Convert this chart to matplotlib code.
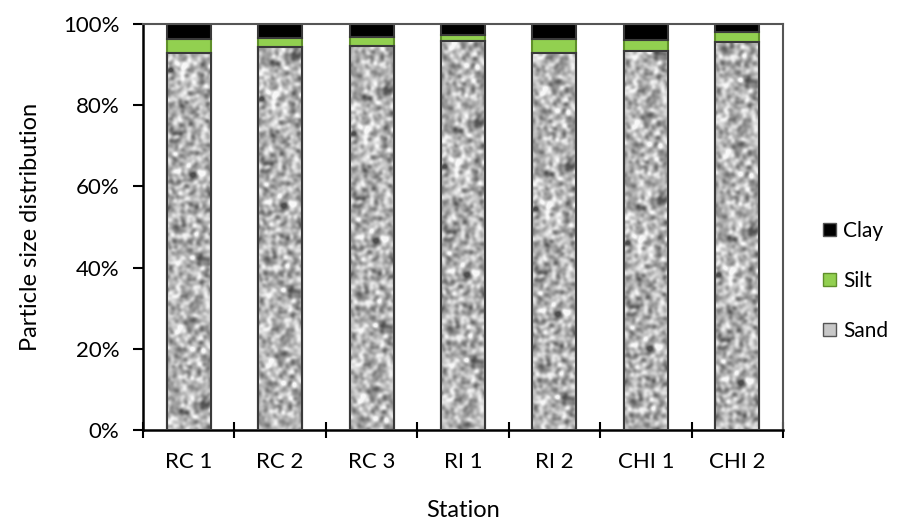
import numpy as np
import matplotlib
matplotlib.use("Agg")
import matplotlib.pyplot as plt
from matplotlib.patches import Patch

plt.rcParams['font.family'] = ['Lato', 'DejaVu Sans']

stations = ["RC 1", "RC 2", "RC 3", "RI 1", "RI 2", "CHI 1", "CHI 2"]
sand = [92.8, 94.4, 94.6, 95.7, 92.9, 93.4, 95.5]
silt = [3.4, 2.2, 2.1, 1.6, 3.3, 2.7, 2.6]
clay = [3.8, 3.4, 3.3, 2.7, 3.8, 3.9, 1.9]

fig = plt.figure(figsize=(9.02, 5.22), dpi=100)
ax = fig.add_axes([143/902, 1 - 430/522, 640/902, 406/522])

x = np.arange(len(stations))
w = 0.48
edge = '#3a3a3a'
b_sand = ax.bar(x, sand, w, color='#bdbdbd', edgecolor=edge, linewidth=1.5, zorder=2)
b_silt = ax.bar(x, silt, w, bottom=sand, color='#92d050', edgecolor='#5f8f2a', linewidth=1.5, zorder=2)
b_clay = ax.bar(x, clay, w, bottom=np.array(sand) + np.array(silt), color='#000000',
                edgecolor=edge, linewidth=1.5, zorder=2)

# granite-like texture for sand bars (styling only)
rng = np.random.default_rng(3)
H, W = 400, 44
noise = rng.standard_normal((H, W))
ky = np.fft.fftfreq(H)[:, None]
kx = np.fft.fftfreq(W)[None, :]
sig = 1.9
filt = np.exp(-2 * (np.pi * sig) ** 2 * (kx ** 2 + ky ** 2))
tex = np.real(np.fft.ifft2(np.fft.fft2(noise) * filt))
tex = (tex - tex.mean()) / tex.std()
tex = np.clip(0.70 + 0.12 * tex, 0.3, 0.97)
for i, r in enumerate(b_sand):
    x0 = r.get_x(); ww = r.get_width(); hh = r.get_height()
    im = ax.imshow(np.roll(tex, i * 37, axis=0), cmap='gray', vmin=0, vmax=1,
                   extent=[x0, x0 + ww, 0, hh], aspect='auto', zorder=2.5,
                   interpolation='bilinear')
    im.set_clip_path(r)
    r2 = plt.Rectangle((x0, 0), ww, hh, fill=False, edgecolor=edge, linewidth=1.5, zorder=3)
    ax.add_patch(r2)

ax.set_xlim(-0.5, len(stations) - 0.5)
ax.set_ylim(0, 100)
ax.set_yticks(np.arange(0, 101, 20))
ax.set_yticklabels([f"{v}%" for v in range(0, 101, 20)])
ax.set_xticks(x)
ax.set_xticklabels(stations)
ax.tick_params(axis='x', length=0, labelsize=16, pad=16)
ax.set_xticks(np.arange(-0.5, len(stations), 1), minor=True)
ax.tick_params(axis='x', which='minor', direction='inout', length=12, width=1.5, color='black')
ax.tick_params(axis='y', direction='out', length=7, width=1.5, labelsize=16, pad=10)

for s in ['top', 'right']:
    ax.spines[s].set_color('#555555')
    ax.spines[s].set_linewidth(1.5)
for s in ['left', 'bottom']:
    ax.spines[s].set_color('black')
    ax.spines[s].set_linewidth(1.8)

ax.set_ylabel("Particle size distribution", fontsize=17, labelpad=16)
ax.set_xlabel("Station", fontsize=17, labelpad=20)

handles = [Patch(facecolor='#000000', edgecolor='#555555', label='Clay'),
           Patch(facecolor='#92d050', edgecolor='#5f8f2a', label='Silt'),
           Patch(facecolor='#c8c8c8', edgecolor='#555555', label='Sand')]
fig.legend(handles=handles, loc='center left', bbox_to_anchor=(823/902, 1 - 281/522),
           frameon=False, fontsize=15, handlelength=0.6, handleheight=0.6,
           labelspacing=1.45, handletextpad=0.35, borderpad=0, borderaxespad=0)

fig.savefig("out.png", dpi=100)
